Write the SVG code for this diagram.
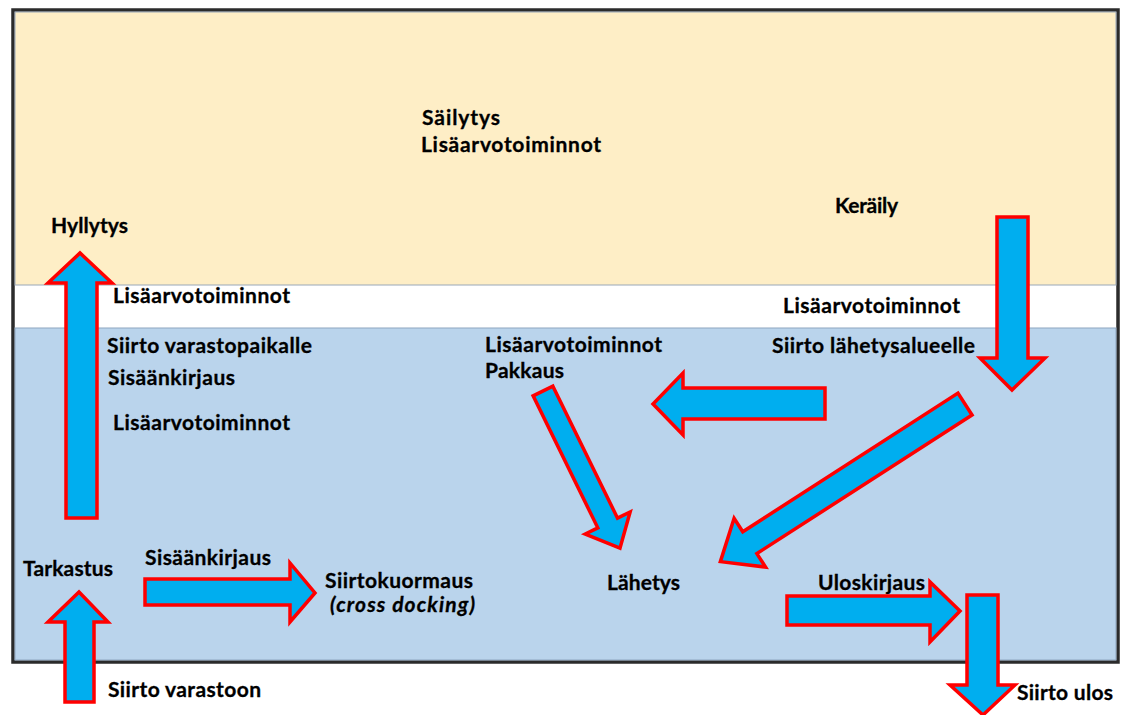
<svg xmlns="http://www.w3.org/2000/svg" width="1123" height="715" viewBox="0 0 1123 715">
<defs>
<style>
.t{font-family:Lato,"Open Sans","Liberation Sans",sans-serif;font-weight:bold;font-size:21px;fill:#000;stroke:#000;stroke-width:0.3;}
.i{font-style:italic;}
.ar{fill:#00AEEF;stroke:#FF0000;stroke-width:3.5;stroke-linejoin:miter;}
</style>
</defs>
<rect width="1123" height="715" fill="#ffffff"/>
<g id="frame">
<rect x="13" y="10" width="1105" height="652" fill="#ffffff" stroke="#2b2b2b" stroke-width="3.5"/>
<rect x="15" y="12" width="1101" height="273" fill="#FEEEC6" stroke="#9aa8b8" stroke-width="1"/>
<rect x="15" y="328" width="1101" height="332" fill="#BAD4EC" stroke="#8ea6c0" stroke-width="1"/>
</g>
<g id="labels">
<text class="t" x="422" y="125" textLength="78">Säilytys</text>
<text class="t" x="421" y="152" textLength="180">Lisäarvotoiminnot</text>
<text class="t" x="835" y="213" textLength="63">Keräily</text>
<text class="t" x="51" y="233" textLength="77">Hyllytys</text>
<text class="t" x="113" y="303" textLength="177">Lisäarvotoiminnot</text>
<text class="t" x="107" y="353" textLength="205">Siirto varastopaikalle</text>
<text class="t" x="108" y="385" textLength="127">Sisäänkirjaus</text>
<text class="t" x="113" y="430" textLength="177">Lisäarvotoiminnot</text>
<text class="t" x="783" y="313" textLength="177">Lisäarvotoiminnot</text>
<text class="t" x="772" y="353" textLength="203">Siirto lähetysalueelle</text>
<text class="t" x="485" y="352" textLength="177">Lisäarvotoiminnot</text>
<text class="t" x="485" y="378" textLength="79">Pakkaus</text>
<text class="t" x="23" y="576" textLength="90">Tarkastus</text>
<text class="t" x="145" y="565" textLength="126">Sisäänkirjaus</text>
<text class="t" x="325" y="588" textLength="148">Siirtokuormaus</text>
<text class="t i" x="330" y="612" textLength="145">(cross docking)</text>
<text class="t" x="607" y="590" textLength="73">Lähetys</text>
<text class="t" x="818" y="590" textLength="107">Uloskirjaus</text>
<text class="t" x="108" y="697" textLength="153">Siirto varastoon</text>
<text class="t" x="1017" y="700" textLength="96">Siirto ulos</text>
</g>
<g id="connectors">
<polygon class="ar" points="66,518 97,518 97,283 112,283 80,253 48,283 66,283"/>
<polygon class="ar" points="65,702 94,702 94,622 108,622 79,592 48,622 65,622"/>
<polygon class="ar" points="145,579 290,579 290,563 315,593 290,622 290,605 145,605"/>
<polygon class="ar" points="997,217 1028,217 1028,358 1045,358 1012,390 980,358 997,358"/>
<polygon class="ar" points="825,388 825,419 683,419 683,435 653,404 683,373 683,388"/>
<polygon class="ar" transform="translate(543 391) rotate(63.9)" points="0,-11 147,-11 147,-25 175,0 147,25 147,11 0,11"/>
<polygon class="ar" transform="translate(965 404) rotate(147.2)" points="0,-13 256,-13 256,-29 291,0 256,29 256,13 0,13"/>
<polygon class="ar" points="787,596 930,596 930,582 960,611 930,642 930,625 787,625"/>
<polygon class="ar" points="967,595 998,595 998,685 1015,685 983,715 950,685 967,685"/>
</g>
</svg>
